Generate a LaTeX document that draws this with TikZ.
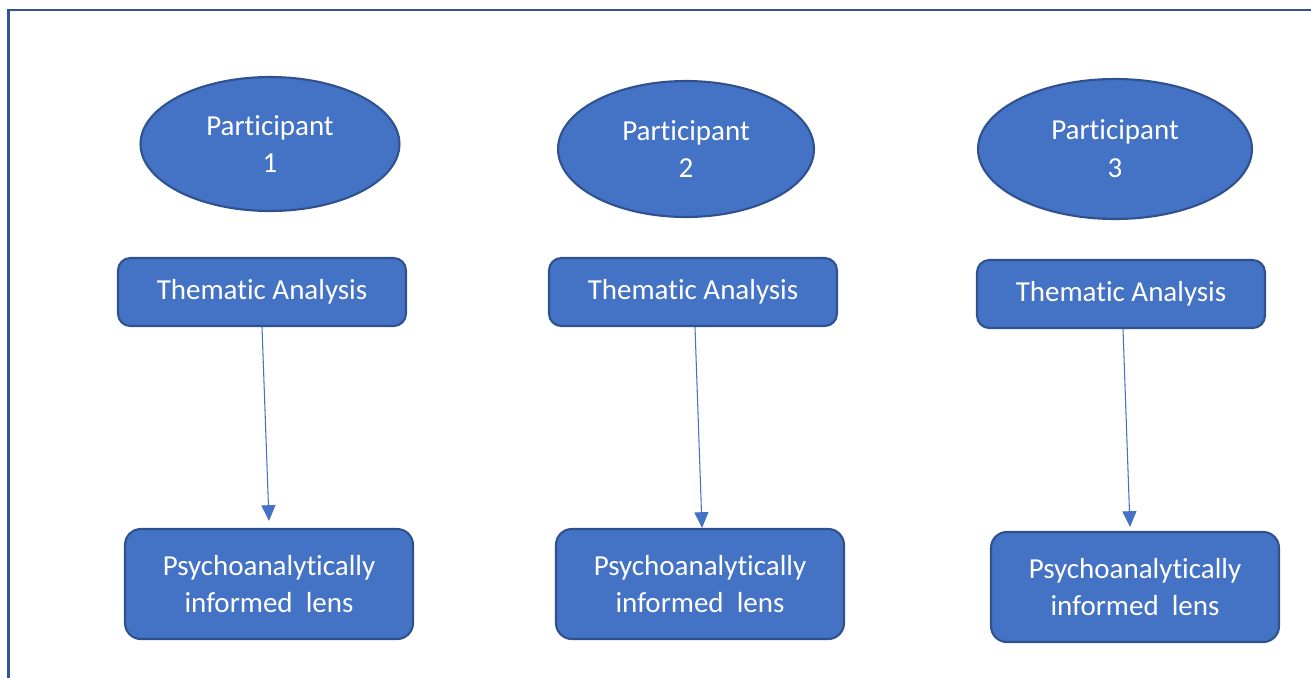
\documentclass[tikz,border=0pt]{standalone}
\usepackage{fontspec}
\setmainfont{Carlito}[Ligatures={NoCommon},Contextuals={NoAlternate}]
\usetikzlibrary{shapes.geometric,arrows.meta}
\definecolor{fillblue}{HTML}{4472C4}
\definecolor{edgeblue}{HTML}{2F528F}
\definecolor{framebl}{HTML}{2F5597}
\newcommand\tiSep{t\kern0pt i}
\tikzset{
  x=0.02cm,y=-0.02cm,
  txt/.style={text=white,font=\fontsize{16.5}{21.5}\selectfont,align=center},
  partic/.style={ellipse,draw=edgeblue,fill=fillblue,line width=1.2pt,txt,inner sep=0pt},
  thbox/.style={rectangle,rounded corners=7pt,draw=edgeblue,fill=fillblue,line width=1.2pt,txt,minimum width=5.76cm,minimum height=1.36cm,inner sep=0pt},
  psbox/.style={rectangle,rounded corners=9pt,draw=edgeblue,fill=fillblue,line width=1.2pt,txt,minimum width=5.76cm,minimum height=2.2cm,inner sep=0pt},
  conn/.style={draw=fillblue,line width=0.6pt,-{Triangle[width=8pt,length=9pt]}}
}
\begin{document}
\begin{tikzpicture}
\useasboundingbox (0,0) rectangle (1311,677);
\clip (0,0) rectangle (1311,677);
\draw[framebl,line width=1.7pt] (8.5,690) -- (8.5,10) -- (1320,10);

\node[partic,minimum width=5.18cm,minimum height=2.68cm] (p1) at (270,144) {Par\tiSep cipant\\1};
\node[partic,minimum width=5.12cm,minimum height=2.72cm] (p2) at (686,149) {Par\tiSep cipant\\2};
\node[partic,minimum width=5.48cm,minimum height=2.80cm] (p3) at (1115,149) {Par\tiSep cipant\\3};

\node[thbox] (t1) at (262,292) {Thema\tiSep c Analysis};
\node[thbox] (t2) at (693,292) {Thema\tiSep c Analysis};
\node[thbox] (t3) at (1121,294) {Thema\tiSep c Analysis};

\node[psbox] (s1) at (269,584) {Psychoanaly\tiSep cally\\informed~~lens};
\node[psbox] (s2) at (700,584) {Psychoanaly\tiSep cally\\informed~~lens};
\node[psbox] (s3) at (1135,587) {Psychoanaly\tiSep cally\\informed~~lens};

\coordinate (e1) at (269,521);
\coordinate (e2) at (702,528);
\coordinate (e3) at (1130,527);
\draw[conn] (t1.south) -- (e1);
\draw[conn] ([xshift=0.04cm]t2.south) -- (e2);
\draw[conn] ([xshift=0.04cm]t3.south) -- (e3);
\end{tikzpicture}
\end{document}
